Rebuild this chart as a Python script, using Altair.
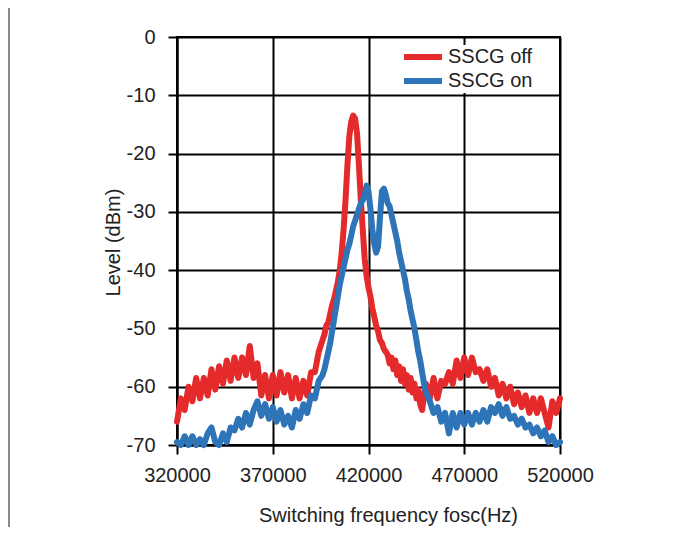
import altair as alt
import pandas as pd

series_names = ["SSCG off", "SSCG on"]
series_colors = ["#E42A2A", "#2E74B8"]

x_ticks = [320000, 370000, 420000, 470000, 520000]
y_ticks = [-70, -60, -50, -40, -30, -20, -10, 0]

# (frequency in kHz, level in dBm)
sscg_off = [
    (320, -66), (322, -62), (324, -64), (326, -60), (328, -62.5), (330, -58.5),
    (332, -62), (334, -58.5), (336, -61.5), (338, -57), (340, -60.5), (342, -56.5),
    (344, -59.5), (346, -55.5), (348, -59), (350, -55), (352, -58.5), (354, -55),
    (356, -58), (358, -53), (360, -58.5), (362, -56), (364, -61.5), (366, -58),
    (368, -62), (370, -58), (372, -61.5), (374, -57.5), (376, -61), (378, -58),
    (380, -62), (382, -58.5), (384, -62), (386, -59), (388, -61.5), (390, -57.5),
    (392, -57.5), (394, -54), (396, -52),
    (397, -51), (398, -49.5), (399, -49), (400, -47.5), (401, -46), (402, -45),
    (403, -43.5), (404, -42), (405, -40), (406, -37), (407, -33), (408, -28),
    (409, -22), (410, -17), (411, -14.5), (412, -13.5), (413, -14), (414, -16.5),
    (415, -22), (416, -28), (417, -33), (418, -38), (419, -41), (420, -43),
    (421, -44.5), (422, -46.5), (423, -48), (424, -49.5), (425, -50.5), (426, -52),
    (427, -52.5), (428, -53.5), (429, -54), (430, -54.5), (431, -56), (432, -55),
    (433, -57), (434, -55.5), (435, -58), (436, -56.5), (437, -59), (438, -57),
    (439, -59.5), (440, -58), (441, -60.5), (442, -58.5), (443, -61), (444, -59.5),
    (445, -62), (446, -60.5), (447, -63), (448, -64), (449, -61.5), (450, -59.5),
    (452, -62), (454, -58.5), (456, -62), (458, -59), (460, -59.5), (462, -57.5),
    (464, -59.5), (466, -55.5), (468, -58.5), (470, -55), (472, -58), (474, -55),
    (476, -57.5), (478, -57), (480, -59), (482, -57), (484, -60), (486, -58.5),
    (488, -61.5), (490, -59.5), (492, -62), (494, -60), (496, -63), (498, -61),
    (500, -63.5), (502, -61.5), (504, -64.5), (506, -62), (508, -64.5), (510, -62),
    (512, -64.5), (514, -67), (516, -62.5), (518, -64.5), (520, -62),
]

sscg_on = [
    (320, -69.5), (322, -70), (324, -68.5), (326, -70), (328, -68.5), (330, -70),
    (332, -69), (334, -70), (336, -68), (338, -67), (340, -69.5), (342, -70),
    (344, -68), (346, -69.5), (348, -67), (350, -67.5), (352, -65.5), (354, -67),
    (356, -64.5), (358, -66.5), (360, -64), (362, -62.5), (364, -65), (366, -63),
    (368, -65.5), (370, -63.5), (372, -66), (374, -64), (376, -66.5), (378, -65),
    (380, -67), (382, -64), (384, -65.5), (386, -63), (388, -64.5), (390, -61.5),
    (392, -62), (394, -59), (396, -58),
    (397, -57), (398, -55.5), (399, -54), (400, -52.5), (401, -50.5), (402, -48.5),
    (403, -46.5), (404, -44.5), (405, -42.5), (406, -41), (407, -39.5), (408, -38),
    (409, -36.5), (410, -35.5), (411, -34), (412, -32.5), (413, -31.5), (414, -30.5),
    (415, -29.5), (416, -28.5), (417, -28), (418, -27), (419, -25.5), (420, -26.5),
    (421, -29.5), (422, -33), (423, -35.5), (424, -37), (425, -36), (426, -31),
    (427, -26.5), (428, -26), (429, -27), (430, -28.5), (431, -29), (432, -30.5),
    (433, -32), (434, -33.5), (435, -35), (436, -37), (437, -38.5), (438, -40),
    (439, -41.5), (440, -43.5), (441, -45), (442, -47), (443, -48.5), (444, -50),
    (445, -52), (446, -54), (447, -55.5), (448, -57.5), (449, -59.5), (450, -61),
    (452, -62.5), (454, -64.5), (456, -63.5), (458, -66), (460, -64.5), (462, -68),
    (464, -64.5), (466, -67), (468, -64.5), (470, -66.5), (472, -64.5), (474, -66.5),
    (476, -64.5), (478, -66), (480, -64), (482, -66), (484, -63.5), (486, -64.5),
    (488, -63), (490, -65), (492, -63.5), (494, -65.5), (496, -65), (498, -66.5),
    (500, -65.5), (502, -67), (504, -66.5), (506, -68), (508, -67), (510, -68.5),
    (512, -67.5), (514, -69.5), (516, -68.5), (518, -70), (520, -69.5),
]

def frame(points, name):
    return pd.DataFrame({
        "freq": [p[0] * 1000 for p in points],
        "level": [p[1] for p in points],
        "series": name,
    })

df_off = frame(sscg_off, series_names[0])
df_on = frame(sscg_on, series_names[1])

FONT = "Liberation Sans"

x_enc = alt.X(
    "freq:Q",
    scale=alt.Scale(domain=[320000, 520000], nice=False, zero=False),
    axis=alt.Axis(
        values=x_ticks, labelExpr="toString(datum.value)",
        title="Switching frequency fosc(Hz)",
        titleX=211, titleY=76, titleBaseline="alphabetic",
        labelPadding=11, labelOverlap=False, labelFlush=False,
    ),
)
y_enc = alt.Y(
    "level:Q",
    scale=alt.Scale(domain=[-70, 0], nice=False, zero=False),
    axis=alt.Axis(
        values=y_ticks, labelExpr="toString(datum.value)",
        title="Level (dBm)",
        titleX=-64, titleY=205, titleBaseline="middle", titleAngle=270,
        labelPadding=13, labelOverlap=False, labelFlush=False,
    ),
)
color_enc = alt.Color(
    "series:N",
    scale=alt.Scale(domain=series_names, range=series_colors),
    legend=alt.Legend(
        title=None, orient="none", legendX=224, legendY=8,
        symbolType="stroke", symbolSize=1444, symbolStrokeWidth=6,
        labelFont=FONT, labelFontSize=20, labelColor="#222222",
        labelOffset=3, fillColor="white", padding=0,
        clipHeight=24, rowPadding=0,
    ),
)

line_style = dict(strokeWidth=6, strokeJoin="round", strokeCap="round")

off_line = alt.Chart(df_off).mark_line(**line_style).encode(x=x_enc, y=y_enc, color=color_enc)
on_line = alt.Chart(df_on).mark_line(**line_style).encode(x=x_enc, y=y_enc, color=color_enc)

dummy = pd.DataFrame({"k": [0]})
frame_left = alt.Chart(dummy).mark_rect(color="#8a8a8a").encode(
    x=alt.value(-169), x2=alt.value(-167), y=alt.value(-29), y2=alt.value(500)
)

chart = alt.layer(off_line, on_line, frame_left).properties(
    width=383, height=408,
    padding={"left": 169, "top": 29, "right": 123, "bottom": 82},
    autosize=alt.AutoSizeParams(type="none"),
    background="white",
).configure_axis(
    grid=True, gridColor="black", gridWidth=2, gridOpacity=1,
    domainColor="black", domainWidth=2,
    tickColor="black", tickWidth=2, tickSize=9,
    labelFont=FONT, labelFontSize=20, labelColor="#222222",
    titleFont=FONT, titleFontSize=20, titleFontWeight="normal", titleColor="#222222",
).configure_view(stroke="black", strokeWidth=2)

chart.save("out.html", embed_options={"renderer": "svg", "actions": False})
